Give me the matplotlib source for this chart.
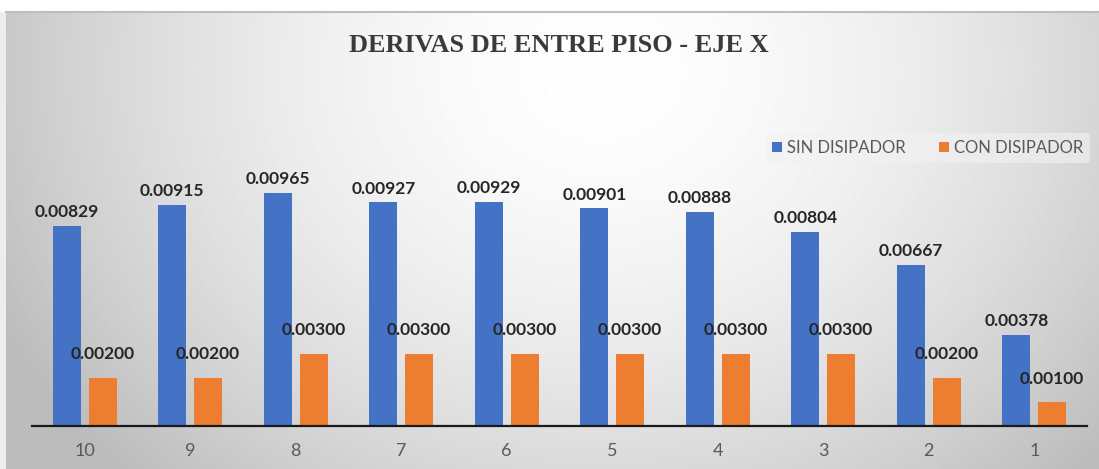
import numpy as np
import matplotlib
matplotlib.use("Agg")
import matplotlib.pyplot as plt

categories = ["10", "9", "8", "7", "6", "5", "4", "3", "2", "1"]
sin_disipador = [0.00829, 0.00915, 0.00965, 0.00927, 0.00929, 0.00901, 0.00888, 0.00804, 0.00667, 0.00378]
con_disipador = [0.00200, 0.00200, 0.00300, 0.00300, 0.00300, 0.00300, 0.00300, 0.00300, 0.00200, 0.00100]
series_names = ["SIN DISIPADOR", "CON DISIPADOR"]
title = "DERIVAS DE ENTRE PISO - EJE X"

W, H = 1099, 469
fig = plt.figure(figsize=(W / 100, H / 100), dpi=100)
fig.patch.set_facecolor("white")

# background gradient
bg = fig.add_axes([0, 0, 1, 1])
bg.set_xlim(0, W)
bg.set_ylim(H, 0)
bg.axis("off")
yy, xx = np.mgrid[0:H, 0:W]
cx, cy = 600, 70
r = np.sqrt(((xx - cx) / 640.0) ** 2 + ((yy - cy) / 540.0) ** 2)
val = 1.0 - 0.24 * np.clip(r, 0, 1.2) ** 1.7
val = np.clip(val, 0.74, 1.0)
img = np.dstack([val, val, val])
img[:12, :, :] = 1.0
img[:, :6, :] = np.maximum(img[:, :6, :], 0.93)
bg.imshow(img, extent=(0, W, H, 0), aspect="auto", interpolation="bilinear", zorder=0)
bg.plot([6, W], [12.5, 12.5], color="#bdbdbd", lw=1.5, zorder=1)

fig.text(559 / W, 1 - 45 / H, title, ha="center", va="center",
         fontsize=19, fontweight="bold", family="Liberation Serif", color="#3a3a3a")

# main axes
left_px, right_px, base_px, top_px = 32, 1087, 426, 150
ax = fig.add_axes([left_px / W, (H - base_px) / H, (right_px - left_px) / W, (base_px - top_px) / H])
ax.patch.set_alpha(0)
ymax = (base_px - top_px) / 24.15 * 0.001
ax.set_ylim(0, ymax)
ax.set_xlim(-0.5, len(categories) - 0.5)

x = np.arange(len(categories))
bw = 0.265
off = 0.17
blue, orange = "#4472C4", "#ED7D31"
b1 = ax.bar(x - off, sin_disipador, bw, color=blue, label=series_names[0], zorder=2)
b2 = ax.bar(x + off, con_disipador, bw, color=orange, label=series_names[1], zorder=2)

lbl_font = dict(fontsize=12.5, fontweight="bold", family="Lato", color="#262626")
for xi, v in zip(x, sin_disipador):
    ax.annotate(f"{v:.5f}", (xi - off, v), xytext=(0, 4), textcoords="offset points",
                ha="center", va="bottom", zorder=4, **lbl_font)
for xi, v in zip(x, con_disipador):
    ax.annotate(f"{v:.5f}", (xi + off, v), xytext=(0, 11), textcoords="offset points",
                ha="center", va="bottom", zorder=4, **lbl_font)

for s in ["top", "right", "left"]:
    ax.spines[s].set_visible(False)
ax.spines["bottom"].set_color("#1a1a1a")
ax.spines["bottom"].set_linewidth(1.6)
ax.set_yticks([])
ax.set_xticks(x)
ax.set_xticklabels(categories, fontsize=13, family="Lato", color="#595959")
ax.tick_params(axis="x", length=0, pad=12)

# legend
leg = fig.legend(handles=[b1, b2], labels=series_names, loc="center",
                 bbox_to_anchor=(928 / W, 1 - 148 / H), ncol=2, frameon=True,
                 handlelength=0.55, handleheight=0.55, handletextpad=0.35,
                 columnspacing=2.0, borderpad=0.4, prop={"family": "Lato", "size": 12})
leg.get_frame().set_facecolor("#f2f2f2")
leg.get_frame().set_alpha(0.6)
leg.get_frame().set_edgecolor("none")
for t in leg.get_texts():
    t.set_color("#595959")

fig.savefig("out.png", dpi=100)
